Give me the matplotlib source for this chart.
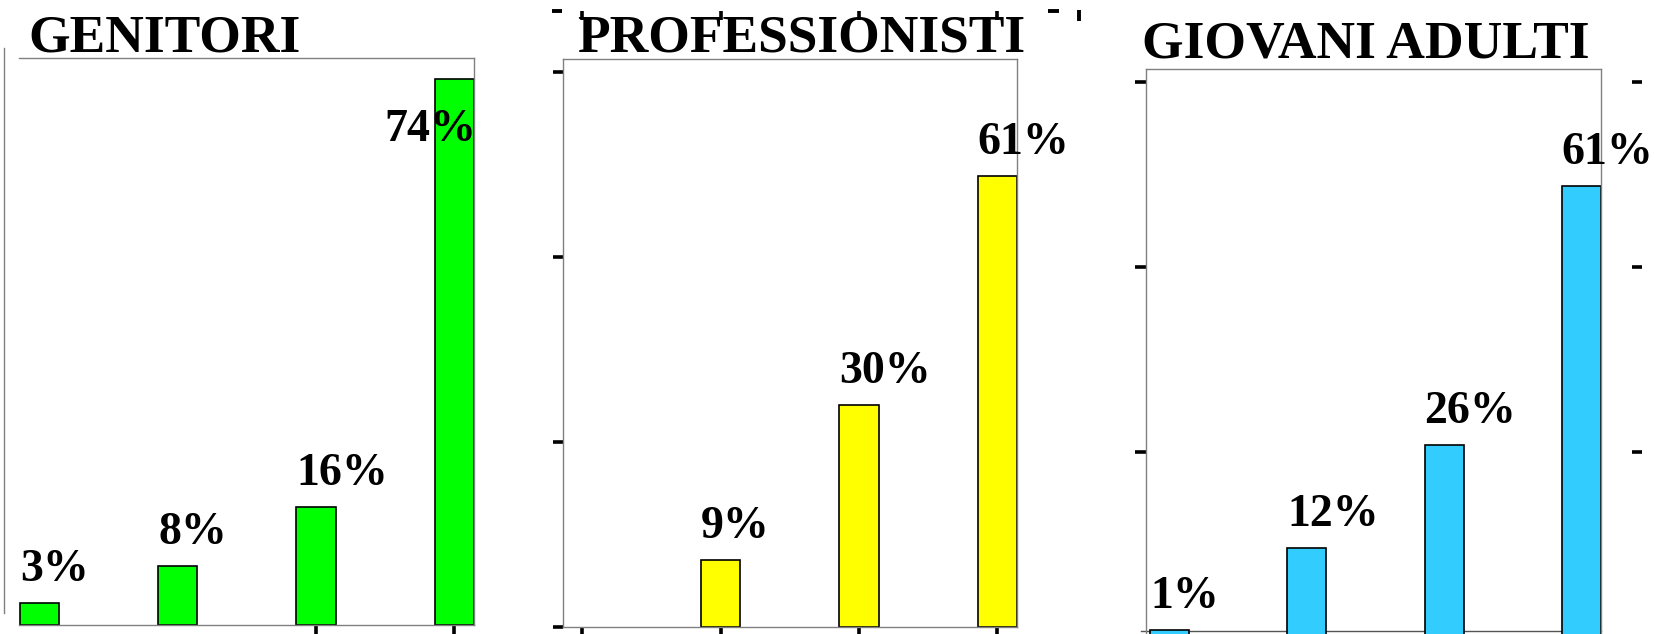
import matplotlib
matplotlib.use('Agg')
import matplotlib.pyplot as plt
from matplotlib.lines import Line2D

# data
titles = ['GENITORI', 'PROFESSIONISTI', 'GIOVANI ADULTI']
positions = [0, 1, 2, 3]
genitori = [3, 8, 16, 74]
professionisti = [0, 9, 30, 61]
giovani_adulti = [1, 12, 26, 61]
colors = ['#00ff00', '#ffff00', '#33ccff']

W, H = 1655, 634
fig = plt.figure(figsize=(W / 100, H / 100), dpi=100)


def box(x0, y0, x1, y1):
    return [x0 / W, 1 - y1 / H, (x1 - x0) / W, (y1 - y0) / H]


ax1 = fig.add_axes(box(19, 58, 474, 625))
ax2 = fig.add_axes(box(563, 59, 1017, 627))
ax3 = fig.add_axes(box(1146, 69, 1601, 637))
axes = [ax1, ax2, ax3]
series = [genitori, professionisti, giovani_adulti]
xlefts = [-0.148, -0.14, -0.171]
title_off = [(9, 6), (14, 7), (-4, 12)]

bw = 0.285
serif = 'Liberation Serif'
grey = '#808080'

for i, (ax, vals) in enumerate(zip(axes, series)):
    # zero-height bars get no outline
    lws = [1.2 if v else 0 for v in vals]
    ax.bar(positions, vals, width=bw, color=colors[i], edgecolor='black',
           linewidth=lws, zorder=2)
    ax.set_ylim(0, 76.8)
    ax.set_xlim(xlefts[i], 3 + bw / 2)
    for s in ax.spines.values():
        s.set_color(grey)
        s.set_linewidth(1.0)
    ax.tick_params(labelleft=False, labelbottom=False, direction='out',
                   length=7, width=2.6, color='black')
    ax.annotate(titles[i], xy=(0, 1), xycoords='axes fraction',
                xytext=title_off[i], textcoords='offset pixels',
                ha='left', va='baseline', fontsize=38.5, fontweight='bold',
                family=serif, annotation_clip=False)
    for x, v in zip(positions, vals):
        if v == 0:
            continue
        off = (0, 22)
        if v + 10 > ax.get_ylim()[1]:
            # no room above the bar: label drawn inside, shifted left
            off = (-50, -62)
        ax.annotate(f'{v}%', xy=(x - bw / 2, v), xytext=off,
                    textcoords='offset pixels', ha='left', va='baseline',
                    fontsize=33, fontweight='bold', family=serif,
                    zorder=5, annotation_clip=False)

# panel 1: no y ticks, left line pushed outwards
ax1.set_yticks([])
ax1.set_xticks([2, 3])
ax1.spines['left'].set_position(('outward', 11))
ax1.spines['left'].set_bounds(1.6, 78.2)

# panel 2
ax2.set_yticks([0, 25, 50, 75])
ax2.set_xticks(positions)
ax2.tick_params(axis='y', length=7.5)
top2 = ax2.secondary_xaxis(1.0845)
top2.set_xticks(positions)
top2.tick_params(direction='in', length=6.5, width=2.6, labeltop=False,
                 labelbottom=False)
for s in top2.spines.values():
    s.set_visible(False)

# panel 3
ax3.set_yticks([0, 25, 50, 75])
ax3.set_xticks(positions)
ax3.tick_params(axis='y', length=8)
right3 = ax3.secondary_yaxis(1.068)
right3.set_yticks([0, 25, 50, 75])
right3.tick_params(direction='out', length=7.5, width=2.6,
                   labelright=False, labelleft=False)
for s in right3.spines.values():
    s.set_visible(False)
ax3.axhline(0.8, xmin=-0.011, xmax=1, color='#555555', lw=1.0, zorder=1,
            clip_on=False)

# stray marks at the top
for (x0, y0, x1, y1) in [(552, 11, 562, 11), (1048, 11, 1059, 11),
                         (1079, 10, 1079, 21)]:
    fig.add_artist(Line2D([x0 / W, x1 / W], [1 - y0 / H, 1 - y1 / H],
                          transform=fig.transFigure, color='black', lw=2.8,
                          solid_capstyle='butt'))

fig.savefig('out.png', dpi=100)
